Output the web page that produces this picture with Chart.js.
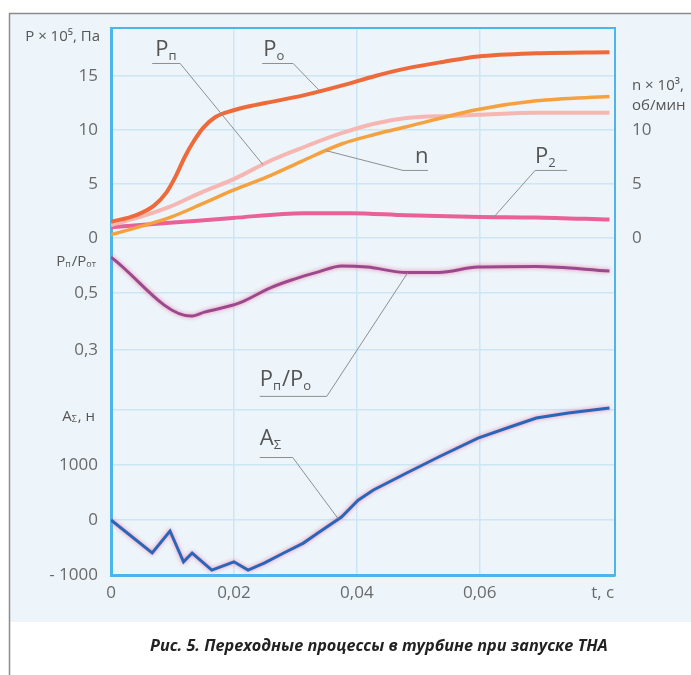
<!DOCTYPE html>
<html lang="ru">
<head>
<meta charset="UTF-8">
<title>Рис. 5. Переходные процессы в турбине при запуске ТНА</title>
<script src="https://cdn.jsdelivr.net/npm/chart.js@4.4.1/dist/chart.umd.min.js"></script>
<style>
  html, body { margin: 0; padding: 0; background: #fff; }
  #wrap { width: 691px; height: 675px; }
</style>
</head>
<body>
<div id="wrap"><canvas id="chart" width="691" height="675"></canvas></div>
<script>
// значения
const xTicks = [0, 0.02, 0.04, 0.06, 0.08];
const xTickLabels = ['0', '0,02', '0,04', '0,06', 't, c'];
const pTicks = [0, 5, 10, 15];
const nTicks = [0, 5, 10];
const ratioTicks = [0.3, 0.5];
const ratioTickLabels = ['0,3', '0,5'];
const aTicks = [-1000, 0, 1000, 2000];
const aTickLabels = ['- 1000', '0', '1000', ''];

// P0, x10^5 Па
const poTime = [0, 0.004, 0.007, 0.009, 0.0106, 0.012, 0.0135, 0.015, 0.017, 0.0198, 0.0234, 0.0261, 0.0313, 0.0375, 0.043, 0.0481, 0.054, 0.0597, 0.0692, 0.0811];
const poValues = [1.5, 2.1, 3.0, 4.2, 5.8, 7.5, 9.0, 10.2, 11.2, 11.8, 12.3, 12.6, 13.2, 14.1, 15.0, 15.7, 16.3, 16.8, 17.1, 17.2];
// Pп, x10^5 Па
const ppTime = [0, 0.005, 0.0096, 0.015, 0.0198, 0.0261, 0.0313, 0.0375, 0.043, 0.0481, 0.055, 0.0597, 0.0692, 0.0811];
const ppValues = [1.2, 2.0, 2.9, 4.3, 5.4, 7.2, 8.4, 9.7, 10.6, 11.1, 11.3, 11.4, 11.6, 11.6];
// n, x10^3 об/мин
const nTime = [0, 0.005, 0.0096, 0.015, 0.0198, 0.026, 0.031, 0.0375, 0.043, 0.0481, 0.0597, 0.0692, 0.0811];
const nValues = [0.3, 1.1, 1.9, 3.2, 4.4, 5.8, 7.1, 8.7, 9.6, 10.3, 11.9, 12.7, 13.1];
// P2, x10^5 Па
const p2Time = [0, 0.0096, 0.0198, 0.0313, 0.039, 0.048, 0.06, 0.069, 0.0811];
const p2Values = [1.0, 1.4, 1.85, 2.3, 2.3, 2.1, 1.95, 1.9, 1.7];
// Pп/P0
const ratioTime = [0, 0.013, 0.0152, 0.0209, 0.0261, 0.0297, 0.0339, 0.0375, 0.0417, 0.0481, 0.0533, 0.0597, 0.0692, 0.0811];
const ratioValues = [0.626, 0.419, 0.433, 0.465, 0.52, 0.548, 0.575, 0.595, 0.591, 0.572, 0.572, 0.591, 0.593, 0.577];
// AΣ, Н
const aTime = [0, 0.0067, 0.0096, 0.0118, 0.0132, 0.0164, 0.02, 0.0223, 0.025, 0.0281, 0.0313, 0.0336, 0.0375, 0.0402, 0.0427, 0.0481, 0.0533, 0.0597, 0.0649, 0.0692, 0.0744, 0.0811];
const aValues = [0, -600, -200, -760, -600, -910, -760, -910, -780, -600, -420, -240, 55, 360, 545, 855, 1145, 1490, 1690, 1855, 1945, 2036];

const FONT = "'Open Sans', 'DejaVu Sans', sans-serif";
const GRID = '#cde6f4';
const AXIS = '#4db5e8';
const TICK = '#6a6a6a';
const TEXT = '#555';
const TICK_FONT = { family: FONT, size: 17 };

const pairs = (xs, ys) => xs.map((x, i) => ({ x: x, y: ys[i] }));
const fixTicks = values => scale => { scale.ticks = values.map(v => ({ value: v })); };

// ширина самой длинной подписи: нужна, чтобы подписи внутренних осей встали в общий столбец
const measureCtx = document.createElement('canvas').getContext('2d');
function widest(labels) {
  measureCtx.font = TICK_FONT.size + 'px ' + FONT;
  return Math.max.apply(null, labels.map(l => measureCtx.measureText(l).width));
}

function valueAt(xs, ys, t) {
  for (let i = 1; i < xs.length; i++) {
    if (t <= xs[i]) {
      const k = (t - xs[i - 1]) / (xs[i] - xs[i - 1]);
      return ys[i - 1] + k * (ys[i] - ys[i - 1]);
    }
  }
  return ys[ys.length - 1];
}

// текст с нижними индексами
function drawRich(ctx, x, y, parts, size) {
  let cx = x;
  parts.forEach(p => {
    const s = p.sub ? Math.round(size * 0.6) : size;
    ctx.font = s + 'px ' + FONT;
    ctx.fillText(p.s, cx, p.sub ? y + size * 0.18 : y);
    cx += ctx.measureText(p.s).width + (p.sub ? 1 : 0);
  });
  return cx - x;
}
function richWidth(ctx, parts, size) {
  let w = 0;
  parts.forEach(p => {
    ctx.font = (p.sub ? Math.round(size * 0.6) : size) + 'px ' + FONT;
    w += ctx.measureText(p.s).width + (p.sub ? 1 : 0);
  });
  return w;
}

// подписи кривых с выносками
const notes = [
  { parts: [{ s: 'P' }, { s: 'п', sub: true }], t: 0.0067, v: 16.2, axis: 'yP', w: 28, dx: 3, dy: -7, from: 'right', xs: ppTime, ys: ppValues, tt: 0.0247 },
  { parts: [{ s: 'P' }, { s: 'o', sub: true }], t: 0.0246, v: 16.2, axis: 'yP', w: 31, dx: 1, dy: -7, from: 'right', xs: poTime, ys: poValues, tt: 0.034 },
  { parts: [{ s: 'n' }], t: 0.0475, v: 6.3, axis: 'yP', w: 25, dx: 12, dy: -7, from: 'left', xs: nTime, ys: nValues, tt: 0.035 },
  { parts: [{ s: 'P' }, { s: '2', sub: true }], t: 0.069, v: 6.3, axis: 'yP', w: 32, dx: 0, dy: -7, from: 'left', xs: p2Time, ys: p2Values, tt: 0.0623 },
  { parts: [{ s: 'P' }, { s: 'п', sub: true }, { s: '/P' }, { s: 'o', sub: true }], t: 0.0242, v: 0.139, axis: 'yR', w: 67, dx: 0, dy: -10, from: 'right', xs: ratioTime, ys: ratioValues, tt: 0.0483 },
  { parts: [{ s: 'A' }, { s: 'Σ', sub: true }], t: 0.0242, v: 1145, axis: 'yA', w: 33, dx: 0, dy: -12, from: 'right', xs: aTime, ys: aValues, tt: 0.037 }
];

const framePlugin = {
  id: 'frame',
  beforeDraw(chart) {
    const ctx = chart.ctx;
    ctx.save();
    ctx.fillStyle = '#fff';
    ctx.fillRect(0, 0, chart.width, chart.height);
    ctx.fillStyle = '#edf5fa';
    ctx.fillRect(10, 14, chart.width - 10, 608);
    ctx.strokeStyle = '#8c8c8c';
    ctx.lineWidth = 1.5;
    ctx.beginPath();
    ctx.moveTo(9.5, chart.height);
    ctx.lineTo(9.5, 13.5);
    ctx.lineTo(chart.width, 13.5);
    ctx.stroke();
    ctx.restore();
  },
  beforeDatasetDraw(chart, args) {
    const ds = chart.data.datasets[args.index];
    if (ds.halo) {
      chart.ctx.save();
      chart.ctx.shadowColor = ds.halo;
      chart.ctx.shadowBlur = 4;
    }
  },
  afterDatasetDraw(chart, args) {
    if (chart.data.datasets[args.index].halo) chart.ctx.restore();
  },
  afterDatasetsDraw(chart) {
    const ctx = chart.ctx;
    const sx = chart.scales.x;
    ctx.save();
    notes.forEach(n => {
      const sy = chart.scales[n.axis];
      const x0 = sx.getPixelForValue(n.t);
      const y0 = sy.getPixelForValue(n.v);
      const tx = sx.getPixelForValue(n.tt);
      const ty = sy.getPixelForValue(valueAt(n.xs, n.ys, n.tt));
      const sxp = n.from === 'right' ? x0 + n.w : x0;
      ctx.strokeStyle = '#8f8f8f';
      ctx.lineWidth = 1;
      ctx.beginPath();
      ctx.moveTo(x0, y0 + 0.5);
      ctx.lineTo(x0 + n.w, y0 + 0.5);
      ctx.moveTo(sxp, y0 + 0.5);
      ctx.lineTo(tx, ty);
      ctx.stroke();
      ctx.fillStyle = TEXT;
      ctx.textBaseline = 'alphabetic';
      ctx.textAlign = 'left';
      drawRich(ctx, x0 + n.dx, y0 + n.dy, n.parts, 22);
    });
    ctx.restore();
  },
  afterDraw(chart) {
    const ctx = chart.ctx;
    const yP = chart.scales.yP, yR = chart.scales.yR, yA = chart.scales.yA, yN = chart.scales.yN;
    ctx.save();
    ctx.fillStyle = TEXT;
    ctx.textBaseline = 'middle';
    ctx.textAlign = 'left';
    // заголовки осей
    const titles = [
      { parts: [{ s: 'P × 10⁵, Па' }], y: yP.getPixelForValue(18.6), right: 100 },
      { parts: [{ s: 'P' }, { s: 'п', sub: true }, { s: '/P' }, { s: 'от', sub: true }], y: yR.getPixelForValue(0.61), right: 97 },
      { parts: [{ s: 'A' }, { s: 'Σ', sub: true }, { s: ', н' }], y: yA.getPixelForValue(1880), right: 95 }
    ];
    titles.forEach(t => {
      const w = richWidth(ctx, t.parts, 15);
      drawRich(ctx, t.right - w, t.y, t.parts, 15);
    });
    ctx.font = '15px ' + FONT;
    const nx = yN.left + 17;
    ctx.fillText('n × 10³,', nx, yP.getPixelForValue(14.1));
    ctx.fillText('об/мин', nx, yP.getPixelForValue(12.2));
    // подпись рисунка
    const cap = 'Рис. 5. Переходные процессы в турбине при запуске ТНА';
    ctx.font = 'italic bold 14px ' + FONT;
    const size = 14 * 458 / ctx.measureText(cap).width;
    ctx.font = 'italic bold ' + size.toFixed(2) + 'px ' + FONT;
    ctx.fillStyle = '#222';
    ctx.fillText(cap, 150, 646);
    ctx.restore();
  }
};

const lineBase = { pointRadius: 0, fill: false, cubicInterpolationMode: 'monotone', xAxisID: 'x' };

new Chart(document.getElementById('chart'), {
  type: 'line',
  data: {
    datasets: [
      Object.assign({ label: 'P0', data: pairs(poTime, poValues), yAxisID: 'yP', borderColor: '#ee6a3a', borderWidth: 4 }, lineBase),
      Object.assign({ label: 'n', data: pairs(nTime, nValues), yAxisID: 'yN', borderColor: '#f5a13f', borderWidth: 3.5 }, lineBase),
      Object.assign({ label: 'Pп', data: pairs(ppTime, ppValues), yAxisID: 'yP', borderColor: '#f6b6b2', borderWidth: 4 }, lineBase),
      Object.assign({ label: 'P2', data: pairs(p2Time, p2Values), yAxisID: 'yP', borderColor: '#ea6197', borderWidth: 4 }, lineBase),
      Object.assign({ label: 'Pп/P0', data: pairs(ratioTime, ratioValues), yAxisID: 'yR', borderColor: '#9a4a8c', borderWidth: 3, halo: 'rgba(235,120,170,0.9)' }, lineBase),
      Object.assign({ label: 'AΣ', data: pairs(aTime, aValues), yAxisID: 'yA', borderColor: '#2a66b8', borderWidth: 3, halo: 'rgba(240,120,170,0.9)' }, lineBase, { tension: 0, cubicInterpolationMode: 'default' })
    ]
  },
  options: {
    responsive: false,
    animation: false,
    events: [],
    layout: { padding: { top: 28, left: 0, right: 0, bottom: 0 } },
    plugins: { legend: { display: false }, tooltip: { enabled: false } },
    scales: {
      x: {
        type: 'linear', position: 'bottom', min: 0, max: 0.082,
        afterBuildTicks: fixTicks(xTicks),
        afterFit: s => { s.height = 100; },
        ticks: { callback: (v, i) => xTickLabels[i], color: TICK, font: TICK_FONT, padding: 8, maxRotation: 0, autoSkip: false },
        grid: { color: c => (c.tick && c.tick.value > 0 && c.tick.value < 0.07) ? GRID : 'rgba(0,0,0,0)', lineWidth: 1.5, drawTicks: false },
        border: { color: AXIS, width: 3 }
      },
      xTop: {
        type: 'linear', position: 'top', min: 0, max: 0.082,
        afterFit: s => { s.height = 0; },
        ticks: { display: false },
        grid: { display: false, drawTicks: false },
        border: { color: AXIS, width: 2 }
      },
      yP: {
        type: 'linear', position: 'left', weight: 1, min: -31.2, max: 19.44,
        afterBuildTicks: fixTicks(pTicks),
        afterFit: s => { s.width = 111; },
        ticks: { callback: v => String(v), color: TICK, font: TICK_FONT, padding: 13, autoSkip: false },
        grid: { color: GRID, lineWidth: 1.5, drawTicks: false },
        border: { color: AXIS, width: 3 }
      },
      yR: {
        type: 'linear', position: 'left', weight: 0, min: -0.4895, max: 1.4298,
        afterBuildTicks: fixTicks(ratioTicks),
        afterFit: s => { s.width = 0; },
        ticks: { callback: (v, i) => ratioTickLabels[i], color: TICK, font: TICK_FONT, autoSkip: false,
                 mirror: true, crossAlign: 'far', padding: -13 - widest(ratioTickLabels) },
        grid: { color: GRID, lineWidth: 1.5, drawTicks: false },
        border: { display: false }
      },
      yA: {
        type: 'linear', position: 'left', weight: 0, min: -1000, max: 8945,
        afterBuildTicks: fixTicks(aTicks),
        afterFit: s => { s.width = 0; },
        ticks: { callback: (v, i) => aTickLabels[i], color: TICK, font: TICK_FONT, autoSkip: false,
                 mirror: true, crossAlign: 'far', padding: -13 - widest(aTickLabels) },
        grid: { color: c => (c.tick && c.tick.value > -1000) ? GRID : 'rgba(0,0,0,0)', lineWidth: 1.5, drawTicks: false },
        border: { display: false }
      },
      yN: {
        type: 'linear', position: 'right', min: -31.2, max: 19.44,
        afterBuildTicks: fixTicks(nTicks),
        afterFit: s => { s.width = 76; },
        ticks: { callback: v => String(v), color: TICK, font: TICK_FONT, padding: 17, autoSkip: false },
        grid: { display: false, drawTicks: false },
        border: { color: AXIS, width: 2 }
      }
    }
  },
  plugins: [framePlugin]
});
</script>
</body>
</html>
